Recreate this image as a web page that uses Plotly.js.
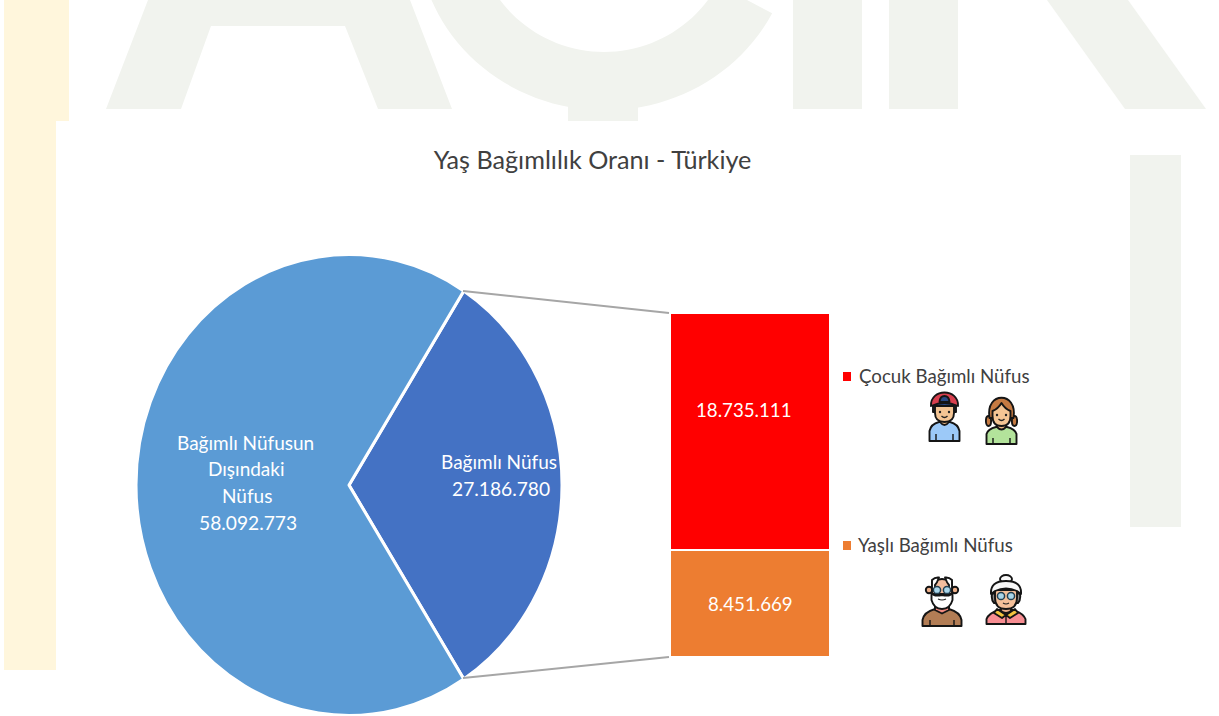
<!DOCTYPE html>
<html>
<head>
<meta charset="utf-8">
<script src="https://cdn.plot.ly/plotly-3.0.1.min.js"></script>
<style>html,body{margin:0;padding:0;background:#fff}#chart{width:1219px;height:716px}</style>
</head>
<body>
<div id="chart"></div>
<script>
// ---- data ----
var pieLabels = ['Bağımlı Nüfus', 'Bağımlı Nüfusun Dışındaki Nüfus'];
var pieValues = [27186780, 58092773];
var pieColors = ['#4472c4', '#5b9bd5'];
var barLabels = ['Yaşlı Bağımlı Nüfus', 'Çocuk Bağımlı Nüfus'];
var barValues = [8451669, 18735111];
var barColors = ['#ed7d31', '#ff0000'];
var titleText = 'Yaş Bağımlılık Oranı - Türkiye';
var pieLines0 = ['Bağımlı Nüfus'];
var pieLines1 = ['Bağımlı Nüfusun', 'Dışındaki', 'Nüfus'];

// ---- helpers ----
var W = 1219, H = 716;
function X(px) { return px / W; }
function Y(py) { return 1 - py / H; }
function fmt(v) { return String(v).replace(/\B(?=(\d{3})+$)/g, '.'); }
function poly(pts) {
  return 'M' + pts.map(function (p) { return X(p[0]) + ',' + Y(p[1]); }).join(' L') + ' Z';
}
var FONT = 'Lato, "Open Sans", sans-serif';
var TXT = '#404040', WM = '#f1f3ee', CREAM = '#fff6dc';

function rect(x0, y0, x1, y1, color) {
  return { type: 'rect', xref: 'paper', yref: 'paper', layer: 'below', x0: X(x0), x1: X(x1), y0: Y(y0), y1: Y(y1),
    fillcolor: color, line: { width: 0 } };
}
function pathShape(d, color) {
  return { type: 'path', xref: 'paper', yref: 'paper', layer: 'below', path: d, fillcolor: color, line: { width: 0 } };
}
function arcPts(cx, cy, rx, ry, a0, a1, n) {
  var out = [];
  for (var i = 0; i <= n; i++) {
    var a = (a0 + (a1 - a0) * i / n) * Math.PI / 180;
    out.push([cx + rx * Math.cos(a), cy + ry * Math.sin(a)]);
  }
  return out;
}
var cOuter = arcPts(605, -67.6, 187.6, 178, 158, 27, 48);
var cInner = arcPts(604, -78, 130, 130, 36.9, 143.1, 40);

var shapes = [
  // cream strip
  rect(4, 0, 69, 121, CREAM),
  rect(4, 121, 56, 670, CREAM),
  // watermark letters
  pathShape(poly([[148, 0], [106, 109], [181, 109], [211, 26], [345, 26], [378, 109], [452, 109], [410, 0]]), WM),
  pathShape(poly(cOuter.concat([[747, 0]]).concat(cInner)), WM),
  rect(568, 100, 638, 121, WM),
  rect(793, 0, 862, 109, WM),
  rect(889, 0, 958, 109, WM),
  pathShape(poly([[1047, 0], [1125, 109], [1206, 109], [1128, 0]]), WM),
  rect(1130, 155, 1181, 527, WM),
  // connector lines between pie and stacked bar
  { type: 'line', xref: 'paper', yref: 'paper', x0: X(463), y0: Y(291), x1: X(669), y1: Y(313), line: { color: '#a6a6a6', width: 2 } },
  { type: 'line', xref: 'paper', yref: 'paper', x0: X(463), y0: Y(678), x1: X(669), y1: Y(657), line: { color: '#a6a6a6', width: 2 } },
  // legend swatches
  rect(843, 372, 851, 381, barColors[1]),
  rect(843, 541, 851, 550, barColors[0])
];
shapes[11].layer = 'above'; shapes[12].layer = 'above';

function pLabel(text, x, y, size) {
  return { xref: 'paper', yref: 'paper', x: X(x), y: Y(y), text: text, showarrow: false, xanchor: 'center', yanchor: 'middle',
    font: { family: FONT, size: size, color: '#ffffff' } };
}
function legendLabel(text, x, y) {
  return { xref: 'paper', yref: 'paper', x: X(x), y: Y(y), text: text, showarrow: false, xanchor: 'left', yanchor: 'middle',
    font: { family: FONT, size: 18.7, color: TXT } };
}
var annotations = [
  pLabel(pieLines1[0], 245.5, 442, 19),
  pLabel(pieLines1[1], 246.5, 468, 19),
  pLabel(pieLines1[2], 247, 495, 19),
  pLabel(fmt(pieValues[1]), 248, 522, 19.2),
  pLabel(pieLines0[0], 499, 462, 19),
  pLabel(fmt(pieValues[0]), 501, 489, 19.2),
  // stacked bar values, anchored to the bar axis
  { xref: 'x', yref: 'y', x: 0, y: barValues[0] + barValues[1] / 2, xshift: -6, yshift: 22, text: fmt(barValues[1]), showarrow: false,
    font: { family: FONT, size: 18.7, color: '#ffffff' } },
  { xref: 'x', yref: 'y', x: 0, y: barValues[0] / 2, text: fmt(barValues[0]), showarrow: false,
    font: { family: FONT, size: 18.7, color: '#ffffff' } },
  legendLabel(barLabels[1], 856.5, 376),
  legendLabel(barLabels[0], 855.5, 545)
];

// ---- icons ----
var S = 'stroke="#151515" stroke-width="1.9" stroke-linejoin="round"';
function face(cx, cy) {
  return '<circle cx="' + (cx - 4.5) + '" cy="' + cy + '" r="1.2" fill="#222"/><circle cx="' + (cx + 4.5) + '" cy="' + cy + '" r="1.2" fill="#222"/>' +
    '<path d="M' + (cx - 3) + ' ' + (cy + 4) + ' Q' + cx + ' ' + (cy + 7) + ' ' + (cx + 3) + ' ' + (cy + 4) + '" fill="none" stroke="#222" stroke-width="1.3"/>';
}
function glasses(cx, cy) {
  return '<circle cx="' + (cx - 5) + '" cy="' + cy + '" r="3.6" fill="#a9d6ea" stroke="#233f50" stroke-width="1.5"/>' +
    '<circle cx="' + (cx + 5) + '" cy="' + cy + '" r="3.6" fill="#a9d6ea" stroke="#233f50" stroke-width="1.5"/>';
}
var boy = '<svg xmlns="http://www.w3.org/2000/svg" viewBox="0 0 33 51">' +
  '<path d="M1.5 50 V40 Q3 33 11 31 H22 Q30 33 31.5 40 V50 Z" fill="#9cc9f8" ' + S + '/>' +
  '<path d="M8 50 V43 M25 50 V43" stroke="#151515" stroke-width="1.4"/>' +
  '<path d="M12 27 H21 V31 Q16.5 37 12 31 Z" fill="#eeb884" ' + S + '/>' +
  '<path d="M5 12 H28 V21 H5 Z" fill="#2a4a86" ' + S + '/>' +
  '<path d="M7 15 H26 V22 Q26 31 16.5 31 Q7 31 7 22 Z" fill="#f4c594" ' + S + '/>' + face(16.5, 21) +
  '<path d="M3 15 C2 -3 31 -3 30 15 Q16.5 9 3 15 Z" fill="#d8404f" ' + S + '/>' +
  '<path d="M11.5 11 Q12 5 16.5 5 Q21 5 21.5 11 Z" fill="#2a4a86" ' + S + '/></svg>';
var girl = '<svg xmlns="http://www.w3.org/2000/svg" viewBox="0 0 33 51">' +
  '<ellipse cx="3.5" cy="27" rx="2.6" ry="5" fill="#c57a42" ' + S + '/><ellipse cx="29.5" cy="27" rx="2.6" ry="5" fill="#c57a42" ' + S + '/>' +
  '<path d="M1.5 50 V40 Q3 35 11 33 H22 Q30 35 31.5 40 V50 Z" fill="#b3e39b" ' + S + '/>' +
  '<path d="M8 50 V44 M25 50 V44" stroke="#151515" stroke-width="1.4"/>' +
  '<path d="M12 28 H21 V33 Q16.5 38 12 33 Z" fill="#eeb884" ' + S + '/>' +
  '<path d="M4.5 24 C0 -3 33 -3 28.5 24 Z" fill="#c57a42" ' + S + '/>' +
  '<path d="M7.5 17 Q13 15 16.5 9 Q20 15 25.5 17 V22 Q25.5 32 16.5 32 Q7.5 32 7.5 22 Z" fill="#f4c594" ' + S + '/>' + face(16.5, 21) + '</svg>';
var oldMan = '<svg xmlns="http://www.w3.org/2000/svg" viewBox="0 0 42 51">' +
  '<path d="M1.5 50 V44 Q3 36 14 33 H28 Q39 36 40.5 44 V50 Z" fill="#b27d55" ' + S + '/>' +
  '<path d="M9 50 V44 M33 50 V44" stroke="#151515" stroke-width="1.4"/>' +
  '<path d="M14 29 H28 V34 L21 37.5 L14 34 Z" fill="#f08a80" ' + S + '/>' +
  '<circle cx="8" cy="14" r="3.2" fill="#eeb08a" ' + S + '/><circle cx="34" cy="14" r="3.2" fill="#eeb08a" ' + S + '/>' +
  '<path d="M11 6 Q21 0 31 6 V18 H11 Z" fill="#f3bd9e" ' + S + '/>' +
  '<path d="M11 14 V4 Q14 1 18 1.5 Q16 7 14 9 V14 Z M31 14 V4 Q28 1 24 1.5 Q26 7 28 9 V14 Z" fill="#ffffff" ' + S + '/>' + glasses(21, 14) +
  '<path d="M10.5 17 Q13 21 21 19 Q29 21 31.5 17 V24 Q29 33 21 33 Q13 33 10.5 24 Z" fill="#ffffff" ' + S + '/>' +
  '<path d="M17 23 Q21 25 25 23" fill="none" stroke="#222" stroke-width="1.2"/></svg>';
var oldWoman = '<svg xmlns="http://www.w3.org/2000/svg" viewBox="0 0 42 51">' +
  '<path d="M1.5 50 V45 Q4 39 14 36 H28 Q38 39 40.5 45 V50 Z" fill="#f78d92" ' + S + '/>' +
  '<path d="M21 50 V41" stroke="#151515" stroke-width="1.4"/>' +
  '<path d="M12 35 L21 41 L30 35 L33 39 L25 44 L21 41 L17 44 L9 39 Z" fill="#f3c33e" ' + S + '/>' +
  '<path d="M7 20 Q6 26 9 29 H12 V18 Z M35 20 Q36 26 33 29 H30 V18 Z" fill="#8a8a8a" ' + S + '/>' +
  '<path d="M16 30 H26 V37 Q21 41 16 37 Z" fill="#eeb08a" ' + S + '/>' +
  '<ellipse cx="21" cy="5" rx="6" ry="4" fill="#f8f8f8" ' + S + '/>' +
  '<path d="M10 16 H32 V24 Q32 35 21 35 Q10 35 10 24 Z" fill="#f4c09a" ' + S + '/>' +
  '<path d="M6 20 Q5 7 21 7 Q37 7 36 20 L32 17 Q21 12 10 17 Z" fill="#f8f8f8" ' + S + '/>' + glasses(21, 22) +
  '<path d="M18 29 Q21 31 24 29" fill="none" stroke="#222" stroke-width="1.2"/></svg>';

function icon(svg, x0, y0, x1, y1) {
  return { source: 'data:image/svg+xml,' + encodeURIComponent(svg), xref: 'paper', yref: 'paper',
    x: X(x0), y: Y(y0), sizex: (x1 - x0) / W, sizey: (y1 - y0) / H, sizing: 'stretch', xanchor: 'left', yanchor: 'top', layer: 'above' };
}
var images = [
  icon(boy, 928, 391, 961, 442),
  icon(girl, 985, 394, 1018, 445),
  icon(oldMan, 921, 576, 963, 627),
  icon(oldWoman, 985, 574, 1027, 625)
];

// ---- traces ----
var PIE_CX = 349, PIE_CY = 485, PIE_RX = 213, PIE_RY = 230.5;
var depShare = pieValues[0] / (pieValues[0] + pieValues[1]);
var traces = [
  { type: 'pie', labels: pieLabels, values: pieValues, sort: false, direction: 'clockwise',
    rotation: 90 - depShare * 180,
    marker: { colors: pieColors, line: { color: '#ffffff', width: 3 } },
    textinfo: 'none', hoverinfo: 'label+value', showlegend: false,
    domain: { x: [X(PIE_CX - PIE_RX), X(PIE_CX + PIE_RX)], y: [Y(PIE_CY + PIE_RX), Y(PIE_CY - PIE_RX)] } }
];
barLabels.forEach(function (name, i) {
  traces.push({ type: 'bar', name: name, x: ['Bağımlı Nüfus'], y: [barValues[i]], width: 1,
    marker: { color: barColors[i], line: { color: '#ffffff', width: 2 } }, showlegend: false, hoverinfo: 'name+y' });
});

var layout = {
  width: W, height: H, autosize: false,
  margin: { l: 0, r: 0, t: 0, b: 0, pad: 0 },
  paper_bgcolor: '#ffffff', plot_bgcolor: 'rgba(0,0,0,0)',
  showlegend: false, barmode: 'stack', bargap: 0,
  title: { text: titleText, x: X(592.5), xanchor: 'center', y: Y(160), yanchor: 'middle',
    font: { family: FONT, size: 25.2, color: TXT } },
  xaxis: { visible: false, type: 'category', domain: [X(670), X(830)], range: [-0.5, 0.5], fixedrange: true },
  yaxis: { visible: false, domain: [Y(657), Y(313)], range: [0, barValues[0] + barValues[1]], fixedrange: true },
  shapes: shapes, annotations: annotations, images: images
};

Plotly.newPlot('chart', traces, layout, { displayModeBar: false }).then(function (gd) {
  // the source pie is slightly elongated vertically: stretch the pie group about its centre
  var k = PIE_RY / PIE_RX;
  var g = gd.querySelector('.pielayer');
  if (g) g.setAttribute('transform', 'translate(0,' + PIE_CY + ') scale(1,' + k + ') translate(0,' + (-PIE_CY) + ')');
});
</script>
</body>
</html>
